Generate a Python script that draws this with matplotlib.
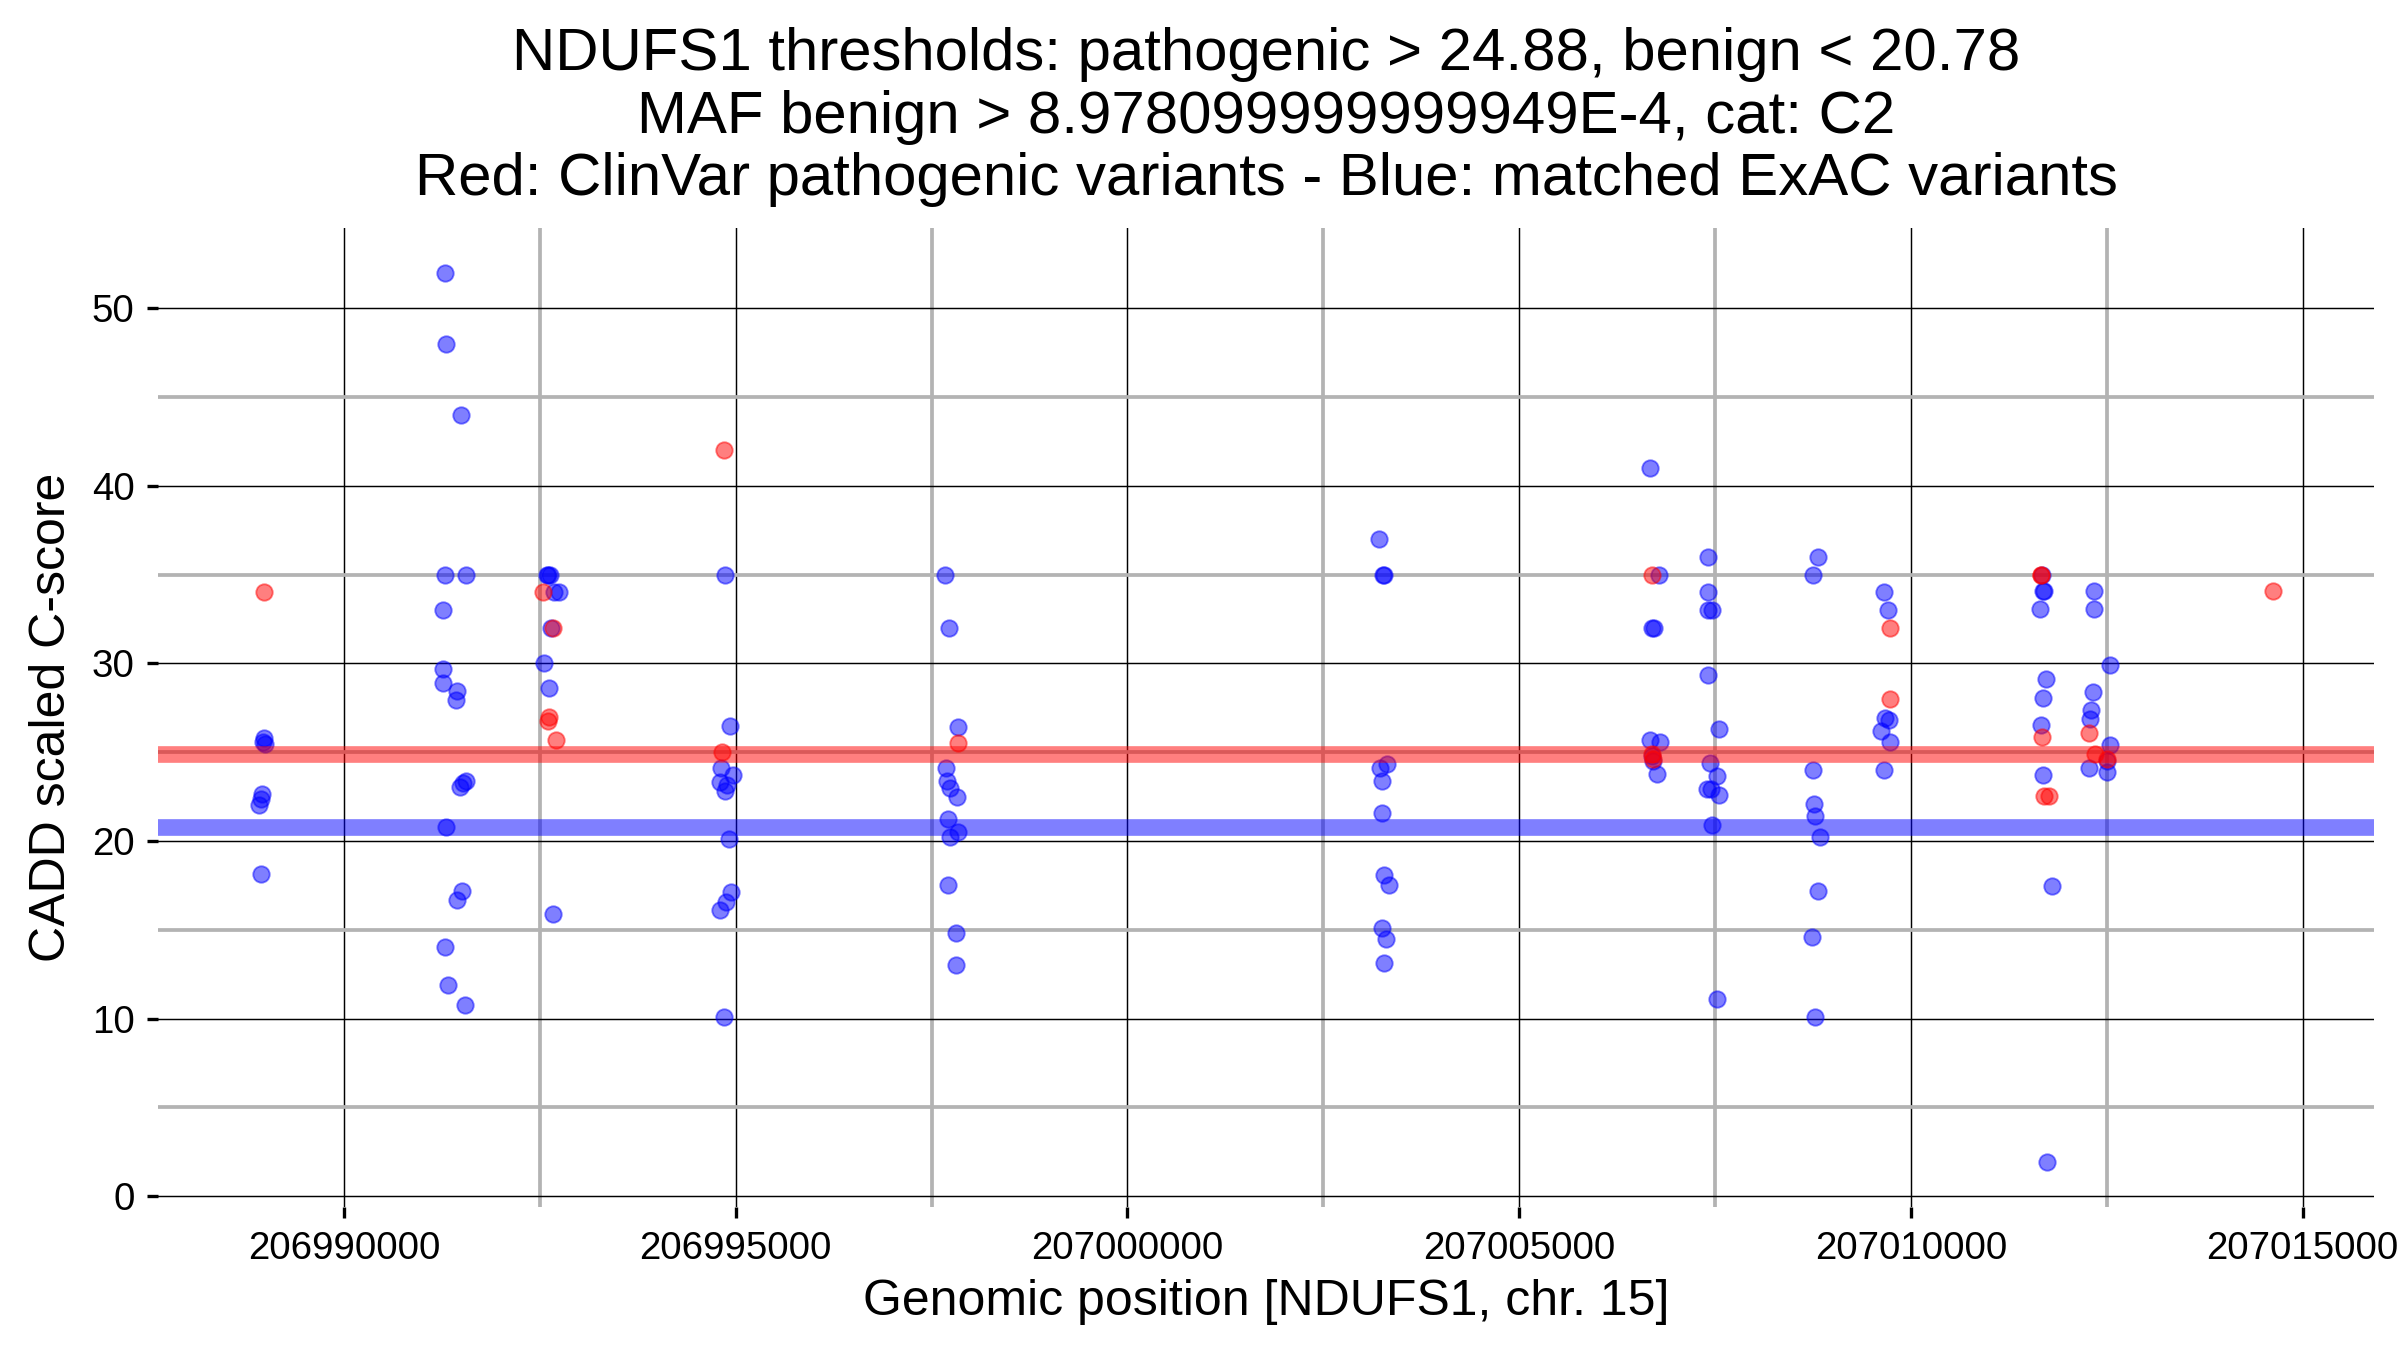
import numpy as np
import matplotlib
matplotlib.use("Agg")
import matplotlib.pyplot as plt

plt.rcParams['font.family'] = ['Liberation Sans', 'DejaVu Sans']

# ExAC variants (blue)
exac_pos = [
    206988984, 206988970, 206988987, 206988958, 206988937, 206988916, 206988937,
    206991284, 206991297, 206991488, 206991284, 206991552, 206991263, 206991267,
    206991259, 206991437, 206991433, 206991560, 206991518, 206991475, 206991305,
    206991501, 206991446, 206991284, 206991322, 206991539,
    206992590, 206992610, 206992630, 206992679, 206992742, 206992636, 206992551,
    206992615, 206992666,
    206994860, 206994932, 206994817, 206994962, 206994796, 206994889, 206994860,
    206994911, 206994945, 206994881, 206994804, 206994855,
    206997670, 206997721, 206997832, 206997687, 206997696, 206997738, 206997823,
    206997708, 206997836, 206997738, 206997704, 206997806, 206997810,
    207003216, 207003260, 207003275, 207003318, 207003225, 207003254, 207003254,
    207003280, 207003336, 207003254, 207003301, 207003280,
    207006672, 207006787, 207006690, 207006720, 207006672, 207006800, 207006710,
    207006700, 207006757,
    207007415, 207007407, 207007415, 207007466, 207007407, 207007555, 207007436,
    207007521, 207007402, 207007445, 207007551, 207007457, 207007530,
    207008812, 207008752, 207008752, 207008761, 207008782, 207008846, 207008816,
    207008740, 207008774,
    207009657, 207009707, 207009665, 207009716, 207009622, 207009729, 207009652,
    207011670, 207011685, 207011700, 207011649, 207011722, 207011692, 207011666,
    207011692, 207011807, 207011743,
    207012338, 207012334, 207012538, 207012326, 207012300, 207012287, 207012538,
    207012509, 207012275, 207012509,
]
exac_score = [
    25.79, 25.60, 25.45, 22.62, 22.38, 22.04, 18.12,
    52.0, 48.0, 44.0, 35.0, 35.0, 33.0, 29.71,
    28.90, 28.42, 27.91, 23.37, 23.24, 23.03, 20.81,
    17.20, 16.66, 14.03, 11.88, 10.76,
    35.0, 35.0, 35.0, 34.0, 34.0, 32.0, 30.0,
    28.62, 15.91,
    35.0, 26.47, 24.12, 23.71, 23.30, 23.13, 22.83,
    20.10, 17.10, 16.59, 16.14, 10.11,
    35.0, 32.0, 26.41, 24.12, 23.37, 22.96, 22.49,
    21.26, 20.51, 20.24, 17.51, 14.81, 13.0,
    37.0, 35.0, 35.0, 24.33, 24.12, 23.36, 21.59,
    18.08, 17.54, 15.11, 14.46, 13.13,
    41.0, 35.0, 32.0, 32.0, 25.69, 25.60, 24.50,
    24.80, 23.76,
    36.0, 34.0, 33.02, 33.02, 29.37, 26.29, 24.40,
    23.68, 22.90, 22.90, 22.59, 20.89, 11.09,
    36.0, 35.0, 24.0, 22.10, 21.38, 20.20, 17.16,
    14.57, 10.09,
    34.0, 33.02, 26.93, 26.81, 26.18, 25.60, 24.0,
    35.0, 34.07, 34.07, 33.06, 29.14, 28.03, 26.52,
    23.71, 17.47, 1.9,
    34.07, 33.06, 29.93, 28.41, 27.37, 26.89, 25.43,
    24.49, 24.12, 23.86,
]

# ClinVar pathogenic variants (red)
clinvar_pos = [
    206988984, 206992543, 206992666, 206992615, 206992606, 206992700,
    206994851, 206994821, 206997832,
    207006702, 207006690, 207006705,
    207009729, 207009729,
    207011658, 207011665, 207011679, 207011700, 207011764,
    207012279, 207012351, 207012509, 207014622,
]
clinvar_score = [
    34.0, 34.0, 32.0, 26.99, 26.75, 25.69,
    42.0, 25.0, 25.49,
    35.0, 24.9, 24.6,
    31.98, 27.99,
    35.0, 35.0, 25.83, 22.53, 22.53,
    26.06, 24.92, 24.6, 34.07,
]

gene = "NDUFS1"
chrom = "15"
thr_patho = 24.88
thr_benign = 20.78
maf_benign = "8.978099999999949E-4"
category = "C2"

x_major = np.arange(206990000, 207015001, 5000)
x_minor = np.arange(206987500, 207017501, 5000)
y_major = np.arange(0, 51, 10)
y_minor = np.arange(5, 51, 10)

fig = plt.figure(figsize=(16, 9), dpi=150)
ax = fig.add_axes([0.066, 0.106, 0.923, 0.725])

ax.set_xticks(x_major)
ax.set_xticklabels([str(v) for v in x_major])
ax.set_xticks(x_minor, minor=True)
ax.set_yticks(y_major)
ax.set_yticks(y_minor, minor=True)

# ggplot-like 5% expansion around the data
all_x = exac_pos + clinvar_pos
all_y = exac_score + clinvar_score
xr = max(all_x) - min(all_x)
yr = max(all_y) - min(all_y)
ax.set_xlim(min(all_x) - 0.05 * xr, max(all_x) + 0.05 * xr)
ax.set_ylim(min(all_y) - 0.05 * yr, max(all_y) + 0.05 * yr)

ax.grid(which='major', color='black', linewidth=0.7, zorder=0)
ax.grid(which='minor', color='#b3b3b3', linewidth=1.8, zorder=0)
ax.set_axisbelow(True)
for s in ax.spines.values():
    s.set_visible(False)

ax.tick_params(which='major', length=5.5, width=1.6, labelsize=18.5, pad=6)
ax.tick_params(which='minor', length=0)

ax.scatter(exac_pos, exac_score, s=62, facecolor=(0, 0, 1, 0.5),
           edgecolor=(0, 0, 1, 0.5), linewidth=0.9, zorder=3)
ax.scatter(clinvar_pos, clinvar_score, s=62, facecolor=(1, 0, 0, 0.5),
           edgecolor=(1, 0, 0, 0.5), linewidth=0.9, zorder=3)

ax.axhline(thr_patho, color='red', alpha=0.5, linewidth=8, zorder=4)
ax.axhline(thr_benign, color='blue', alpha=0.5, linewidth=8, zorder=4)

ax.set_xlabel("Genomic position [%s, chr. %s]" % (gene, chrom), fontsize=24, labelpad=6)
ax.set_ylabel("CADD scaled C-score", fontsize=24, labelpad=8)
ax.set_title("%s thresholds: pathogenic > %.2f, benign < %.2f\n"
             "MAF benign > %s, cat: %s\n"
             "Red: ClinVar pathogenic variants - Blue: matched ExAC variants"
             % (gene, thr_patho, thr_benign, maf_benign, category),
             fontsize=28.8, linespacing=1.17, pad=16)

fig.savefig("out.png", dpi=150)
